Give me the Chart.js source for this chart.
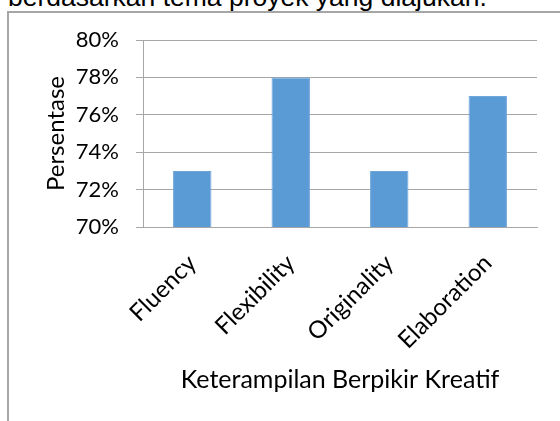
<!DOCTYPE html>
<html>
<head>
<meta charset="utf-8">
<script src="https://cdn.jsdelivr.net/npm/chart.js@4"></script>
<style>
    html, body { margin: 0; padding: 0; background: #fff; overflow: hidden; }
    body { width: 560px; height: 421px; position: relative; }
    #caption {
        position: absolute; left: 8px; top: -16px;
        font-family: "Liberation Sans", Arial, sans-serif; font-size: 26.5px; line-height: 26.5px;
        color: #000; white-space: nowrap;
    }
    #frame {
        position: absolute; left: 7px; top: 11px; width: 553px; height: 410px;
        border-top: 2px solid #a6a6a6; border-left: 2px solid #a6a6a6;
        box-sizing: border-box;
    }
    #wrap { position: absolute; left: 9px; top: 13px; width: 551px; height: 408px; }
</style>
</head>
<body>
<div id="caption">berdasarkan tema proyek yang diajukan.</div>
<div id="frame"></div>
<div id="wrap"><canvas id="barChart"></canvas></div>
<script>
// data
const categories = ['Fluency', 'Flexibility', 'Originality', 'Elaboration'];
const persentase = [73, 78, 73, 77];
const yTicks = [70, 72, 74, 76, 78, 80];
const xTitle = 'Keterampilan Berpikir Kreatif';
const yTitle = 'Persentase';

const fontFam = 'Lato, "Open Sans", sans-serif';
const gridColor = '#a6a6a6';

new Chart(document.getElementById('barChart'), {
    type: 'bar',
    data: {
        labels: categories,
        datasets: [{
            label: yTitle,
            data: persentase,
            backgroundColor: '#5b9bd5',
            borderColor: '#6ea6da',
            borderWidth: 1,
            categoryPercentage: 1,
            barPercentage: 0.39
        }]
    },
    options: {
        responsive: true,
        maintainAspectRatio: false,
        animation: false,
        layout: { padding: { top: 27, right: 23, bottom: 26, left: 0 } },
        plugins: { legend: { display: false }, tooltip: { enabled: false } },
        scales: {
            x: {
                afterFit: (axis) => { axis.height = 168; axis.paddingLeft = 0; axis.paddingRight = 0; },
                grid: { display: false, drawTicks: false },
                border: { display: true, color: gridColor, width: 1 },
                ticks: {
                    color: '#000', font: { family: fontFam, size: 24 },
                    minRotation: 45, maxRotation: 45, padding: 22
                },
                title: {
                    display: true, text: xTitle, color: '#000',
                    font: { family: fontFam, size: 25 }, padding: { top: 4, bottom: 0 }
                }
            },
            y: {
                min: yTicks[0],
                max: yTicks[yTicks.length - 1],
                afterBuildTicks: (axis) => { axis.ticks = yTicks.map(v => ({ value: v })); },
                afterFit: (axis) => { axis.width = 134; axis.paddingTop = 0; axis.paddingBottom = 0; },
                grid: { color: gridColor, lineWidth: 1, tickLength: 7 },
                border: { display: true, color: gridColor, width: 1 },
                ticks: {
                    color: '#000', font: { family: fontFam, size: 22 }, padding: 17,
                    callback: (v) => v + '%'
                },
                title: {
                    display: true, text: yTitle, color: '#000',
                    font: { family: fontFam, size: 24 }, padding: { top: 33, bottom: 5 }
                }
            }
        }
    }
});
</script>
</body>
</html>
